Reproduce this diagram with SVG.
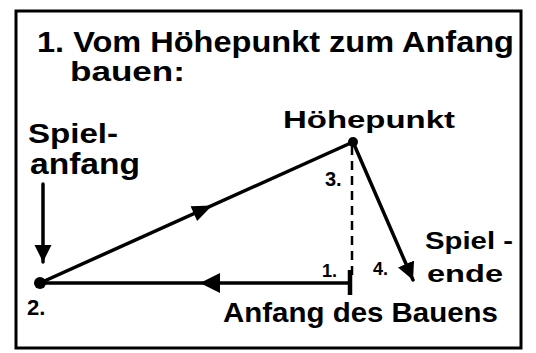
<svg xmlns="http://www.w3.org/2000/svg" width="536" height="353" viewBox="0 0 536 353">
<defs>
<style>
.t{font-family:"Liberation Sans","DejaVu Sans",sans-serif;font-weight:bold;fill:#000}
.ln{stroke:#000;stroke-width:3.5;fill:none;stroke-linecap:round}
</style>
<marker id="ah" viewBox="0 0 10 10" refX="10" refY="5" markerWidth="5" markerHeight="5" orient="auto" markerUnits="strokeWidth"><path d="M0,0 L10,5 L0,10 z" fill="#000"/></marker>
</defs>
<rect width="536" height="353" fill="#fff"/>
<rect x="16" y="11" width="505" height="337" fill="none" stroke="#000" stroke-width="3"/>
<g id="title">
<text class="t" x="37" y="52" font-size="29" textLength="477" lengthAdjust="spacingAndGlyphs">1. Vom Höhepunkt zum Anfang</text>
<text class="t" x="70" y="81" font-size="27" textLength="115" lengthAdjust="spacingAndGlyphs">bauen:</text>
</g>
<g id="connectors">
<line class="ln" x1="43" y1="184" x2="43" y2="262" marker-end="url(#ah)"/>
<line class="ln" x1="40" y1="283" x2="353" y2="142"/>
<path d="M-10,-8 L10,0 L-10,8 z" fill="#000" transform="translate(203 209.5) rotate(-24.2)"/>
<line class="ln" x1="40" y1="283" x2="350" y2="283"/>
<path d="M200,283 L220,273 L220,293 z" fill="#000"/>
<line x1="350" y1="270" x2="350" y2="295" stroke="#000" stroke-width="4.5"/>
<line x1="352" y1="146" x2="352" y2="280" stroke="#000" stroke-width="2.5" stroke-dasharray="9,6"/>
<line class="ln" x1="353" y1="142" x2="413" y2="280" marker-end="url(#ah)"/>
</g>
<g id="p2">
<circle cx="40" cy="283" r="6" fill="#000"/>
<text class="t" x="27" y="315" font-size="22">2.</text>
</g>
<g id="p3">
<circle cx="353" cy="142" r="5" fill="#000"/>
<text class="t" x="325" y="186" font-size="20">3.</text>
</g>
<g id="p1">
<text class="t" x="322" y="277" font-size="18">1.</text>
</g>
<g id="p4">
<text class="t" x="373" y="275" font-size="18">4.</text>
</g>
<g id="hoehepunkt">
<text class="t" x="283" y="128" font-size="24" textLength="172" lengthAdjust="spacingAndGlyphs">Höhepunkt</text>
</g>
<g id="spielanfang">
<text class="t" x="28" y="143" font-size="27" textLength="90" lengthAdjust="spacingAndGlyphs">Spiel-</text>
<text class="t" x="30" y="174" font-size="29" textLength="110" lengthAdjust="spacingAndGlyphs">anfang</text>
</g>
<g id="spielende">
<text class="t" x="425" y="249" font-size="24" textLength="88" lengthAdjust="spacingAndGlyphs">Spiel -</text>
<text class="t" x="427" y="282" font-size="24" textLength="76" lengthAdjust="spacingAndGlyphs">ende</text>
</g>
<g id="anfangbauens">
<text class="t" x="223" y="322" font-size="28" textLength="275" lengthAdjust="spacingAndGlyphs">Anfang des Bauens</text>
</g>
</svg>
